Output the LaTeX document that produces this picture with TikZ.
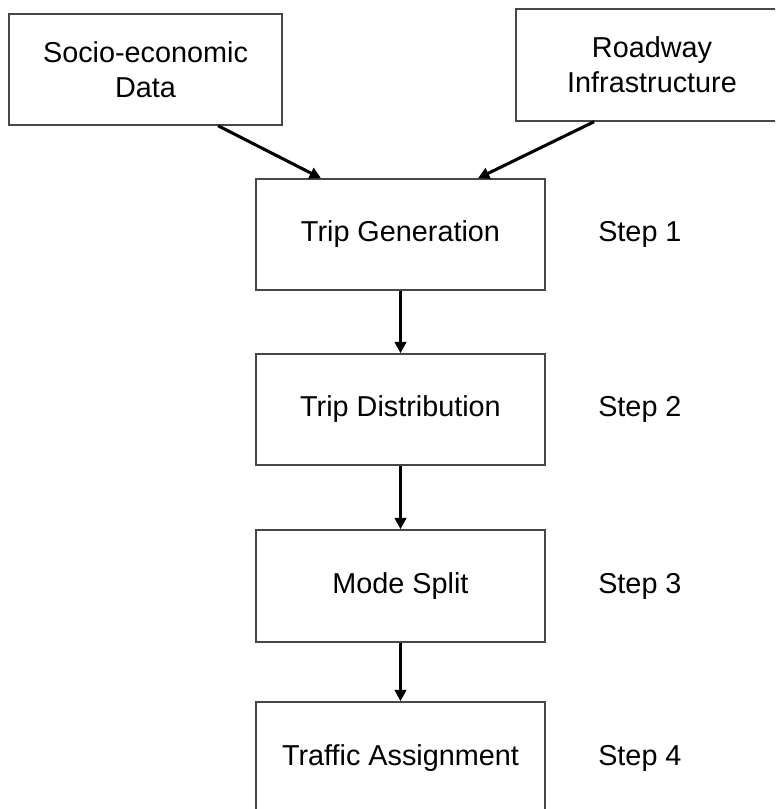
\documentclass[tikz,border=0pt]{standalone}
\usepackage{fontspec}
\setmainfont{Liberation Sans}
\usetikzlibrary{arrows.meta}
\begin{document}
\begin{tikzpicture}[x=0.75pt,y=-0.75pt,
  box/.style={draw=black!72,line width=1.1pt,fill=white,inner sep=0pt,
    align=center,font=\fontsize{21.6}{26}\selectfont},
  lbl/.style={anchor=west,inner sep=0pt,font=\fontsize{21.6}{26}\selectfont},
  arr/.style={line width=2.3pt,-{Triangle[length=8.5pt,width=8.5pt]}}]
\useasboundingbox (0,0) rectangle (775,809);
\clip (0,0) rectangle (775,809);
% input boxes (sizes given in pixels of 0.75pt)
\node[box,minimum width=273*0.75pt,minimum height=111*0.75pt] (soc) at (145.5,69.5) {Socio-economic\\Data};
\node[box,minimum width=272*0.75pt,minimum height=112*0.75pt] (road) at (652,65) {Roadway\\Infrastructure};
% model steps
\node[box,minimum width=289*0.75pt,minimum height=111*0.75pt] (tg) at (400.5,234.5) {Trip Generation};
\node[box,minimum width=289*0.75pt,minimum height=111*0.75pt] (td) at (400.5,409.5) {Trip Distribution};
\node[box,minimum width=289*0.75pt,minimum height=112*0.75pt] (ms) at (400.5,586) {Mode Split};
\node[box,minimum width=289*0.75pt,minimum height=112*0.75pt] (ta) at (400.5,758) {Traffic Assignment};
% step labels
\node[lbl] (s1) at (598,234.5) {Step 1};
\node[lbl] (s2) at (598,409.5) {Step 2};
\node[lbl] (s3) at (598,586) {Step 3};
\node[lbl] (s4) at (598,758) {Step 4};
% connectors
\draw[arr] ([xshift=54.4pt]soc.south) -- ([xshift=-59.6pt]tg.north);
\draw[arr] ([xshift=-43.5pt]road.south) -- ([xshift=58.1pt]tg.north);
\draw[arr] (tg.south) -- (td.north);
\draw[arr] (td.south) -- (ms.north);
\draw[arr] (ms.south) -- (ta.north);
\end{tikzpicture}
\end{document}
